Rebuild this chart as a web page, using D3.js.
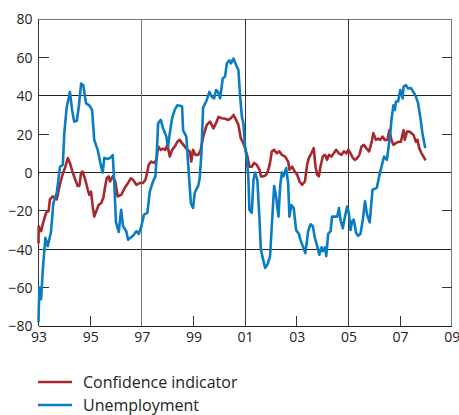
<!DOCTYPE html>
<html><head><meta charset="utf-8">
<script src="https://cdn.jsdelivr.net/npm/d3@7"></script>
<style>body{margin:0;background:#fff;} svg{display:block;font-family:"Open Sans",sans-serif;}</style>
</head><body><svg id="c" width="459" height="415"></svg>
<script>
// months since Jan 1993
const blueMonths = [0,0.4,1.2,2.0,3.2,4.3,5.8,6.9,8.5,10,11.3,12,13.1,14.6,15.6,16.6,17.8,18.7,19.8,20.8,22.1,23.6,24.9,25.9,27.5,29.1,29.8,30.6,32.2,33.2,34.5,35.2,36,37.3,38.4,39.3,40.8,41.6,43.9,45.5,46.6,47.8,49,50.6,51.7,53.2,54.3,54.8,55.6,56.8,57.9,59.4,60.2,61,62.1,63.3,64.5,66.7,67.2,68.7,69.5,70.8,71.8,72.6,74.2,74.9,75.7,76.5,77,78.2,79.4,80.5,81.6,82.5,83.4,84.4,85.6,86.7,87.5,88.7,89.4,90.6,91.8,92.9,93.7,94.5,95.2,96,96.8,97.5,98,99.1,99.9,100.7,101.7,102.7,103.3,104.2,105.3,106.4,107.6,108.4,109.5,110.4,111.5,112.3,113.1,113.8,115.1,116,116.6,117.5,118.6,119.7,121,121.7,122.8,124,125.3,126.4,127.5,128.4,129.5,130.5,131.5,132.1,133.1,133.7,134.6,135.7,136.4,137.7,138.8,139.6,140.3,141.4,142.4,143.4,144.2,145,145.7,146.5,147.6,148.5,149.6,150.7,151.7,152.7,153.9,155.2,157.2,158.3,159.8,160.6,161.9,162.5,163.4,164,164.9,165.6,166.1,167.1,168.1,169.2,169.6,170.7,171.8,173,174.2,175.4,176.4,177.4,178.4,179.7];
const blueValues = [-78,-60,-66,-50.6,-34,-38.4,-31,-16,-10.5,3,4,20.6,34,42,32.6,26.5,27,34,46.4,45.5,36,35,32.6,17,11.8,3,0,7.6,7,7.6,9,-5.4,-26,-31,-19.4,-28,-30.6,-35,-33,-30.6,-32,-28,-22,-21,-10,-4.7,-2,6.6,25.7,27.4,23,18.7,13.5,20.5,28.3,32.6,35,34.5,22,18.7,5,-16,-18.5,-10.5,-7,-3,10,34,35,37.8,42,39.5,38.6,43,42,38.6,49,50,56.8,58.5,56.8,59.4,56,53.4,39.5,29,25.7,13.5,6.6,-2,-19.4,-21,-3.8,0,-4,-24.6,-40,-44.5,-49.7,-48,-43.6,-28,-7,-12.5,-23,-7,0,-2,2.3,-5.5,-23,-17,-18.5,-30,-32,-35,-38.4,-42,-30.6,-27,-28,-34,-38.4,-42.8,-39,-41,-39,-43.6,-32,-30.6,-23,-23,-23,-18.5,-24.6,-29,-23,-17.7,-21,-30,-25.5,-24.6,-31.5,-33,-32,-24.6,-15,-22,-26,-9,-8,-2,5,8.3,6.6,11.8,19.6,27.4,35,32.6,37,37,43,38.6,44.7,45.5,43.8,44,42,39.5,36,29,20.5,12.7];
const redMonths = [0,0.1,1.2,2.2,3.5,4.7,5.3,6.6,7.8,8.5,9.4,10.5,11.5,12.5,13.6,14.6,15.9,17.1,18.2,19,19.8,20.5,21.8,22.9,23.6,24.4,25.2,25.9,27.1,28,29.1,30.1,31.1,31.7,32.6,33.2,34.5,35.7,36.8,37.6,38.5,40.1,41.6,42.9,43.9,45.5,47,48.6,49.7,50.6,51.2,52.4,53.7,54.8,55.6,56.8,57.9,58.9,59.9,61,62.1,63.3,64.5,65.6,66.7,68,69.2,70.3,71,71.8,72.9,74.2,75.4,76.6,78.2,79.7,81.3,82.5,83.6,85.2,86.7,88.2,89.4,90.6,91.8,92.9,94,94.9,96,97.1,98,99.1,100.2,101.4,102.7,103.4,104.5,105.8,106.8,107.6,108.4,109.5,110.7,111.9,113.1,114.6,116,116.6,117.9,119.1,120.2,121.3,122.5,123.8,124.8,125.6,126.8,127.9,128.7,129.5,130.3,131,132.1,133.1,134.1,134.9,136.1,137.2,138.3,139.6,140.8,141.9,143,143.9,145,146.1,147,148.1,149.1,150.1,151.2,152.3,153.6,154.7,155.6,156.8,157.8,158.8,159.8,160.9,162.2,163,164,164.9,166,167.1,168.4,169.6,170.2,171.2,172.3,173.3,174.2,175.4,176.1,176.9,178,179.3,179.9];
const redValues = [-37,-28,-30.6,-26,-21,-20,-14,-12.5,-13.3,-14,-9,-3.8,0,3,7.5,5,0,-3.8,-7,-7,0,0.5,-4,-9,-11.6,-10,-17.7,-23,-19.4,-16.8,-16,-13.3,-6.4,-3,-2,-4.7,-2,-4.7,-12.5,-12,-11.6,-8,-5.5,-3,-3.8,-6.4,-5.5,-5.5,-3.8,0.5,4,5.7,5,6.6,13.5,11.8,12.5,11.8,14.4,8.3,11.8,13.5,16,17,15.3,13.5,11.8,11,5.7,11.8,9.2,9.2,11.8,19,24.8,26.5,23,25.7,29,28.3,28,27.4,28.3,30,27.4,24.8,17.9,16,12.7,8.3,3,3,5,4,1.4,-2,-2,-1.2,1.4,5,11,11.8,10,11,9.2,8.3,5.7,1.4,3,0.5,-1.2,-4.7,-6.4,-4.7,4,7.5,10,12.7,3,-1.2,-2,3,8.3,9.2,6.6,9.2,8.3,10,11.8,10,9.2,11,10,11.8,10,7.5,6.6,7.5,9.2,13.5,14.4,12.7,11,15.3,20.5,17,17.7,17,18.7,17,17,22,17,14.4,15.3,16,16,22,17,21.3,21.3,20.5,19.6,16,17,12.7,10,7.5,6.3];
const yTicks = [80,60,40,20,0,-20,-40,-60,-80];
const xTickMonths = [0,24,48,72,96,120,144,168,192];
const xTickLabels = ["93","95","97","99","01","03","05","07","09"];
const seriesNames = ["Confidence indicator","Unemployment"];
const seriesColors = ["#a8282f","#0a7cc4"];

const svg = d3.select("#c");
const L=38.5, R=451.7, T=19, B=326;
const x = d3.scaleLinear().domain([0,192]).range([L,R]);
const y = d3.scaleLinear().domain([-80,80]).range([B,T]);

const g = svg.append("g");
[80,40,0,-40,-80].forEach(v=>{
  g.append("line").attr("x1",L).attr("x2",R).attr("y1",y(v)).attr("y2",y(v))
   .attr("stroke", (v===80)?"#777":"#222").attr("stroke-width",1).attr("shape-rendering","crispEdges");
});
[48,96,144].forEach(m=>{
  g.append("line").attr("x1",x(m)).attr("x2",x(m)).attr("y1",T).attr("y2",B)
   .attr("stroke", m===48?"#777":"#333").attr("stroke-width",1).attr("shape-rendering","crispEdges");
});
g.append("line").attr("x1",L).attr("x2",L).attr("y1",T).attr("y2",B).attr("stroke","#333").attr("shape-rendering","crispEdges");
g.append("line").attr("x1",R).attr("x2",R).attr("y1",T).attr("y2",B).attr("stroke","#777").attr("shape-rendering","crispEdges");

const yAxisL = d3.axisLeft(y).tickValues(yTicks).tickSize(0).tickPadding(5);
const ga = svg.append("g").attr("transform",`translate(${L-1},0)`).call(yAxisL);
ga.select(".domain").remove();
ga.selectAll("text").attr("font-size",14).attr("fill","#222").attr("font-family","Open Sans").attr("dy","0.35em");
[60,20,-20,-60].forEach(v=>{
  g.append("line").attr("x1",L).attr("x2",L+10).attr("y1",y(v)).attr("y2",y(v)).attr("stroke","#333").attr("shape-rendering","crispEdges");
  g.append("line").attr("x1",R-10).attr("x2",R).attr("y1",y(v)).attr("y2",y(v)).attr("stroke","#333").attr("shape-rendering","crispEdges");
});
const xAxis = d3.axisBottom(x).tickValues(xTickMonths).tickFormat((d,i)=>xTickLabels[i]).tickSize(0).tickPadding(6);
const gx = svg.append("g").attr("transform",`translate(0,${B})`).call(xAxis);
gx.select(".domain").remove();
gx.selectAll("text").attr("font-size",14).attr("fill","#222").attr("font-family","Open Sans");
[24,72,120,168].forEach(m=>{
  g.append("line").attr("x1",x(m)).attr("x2",x(m)).attr("y1",B-10).attr("y2",B).attr("stroke","#333").attr("shape-rendering","crispEdges");
});

const line = d3.line().x(d=>x(d[0])).y(d=>y(d[1]));
const redData = redMonths.map((m,i)=>[m,redValues[i]]);
const blueData = blueMonths.map((m,i)=>[m,blueValues[i]]);
svg.append("path").datum(redData).attr("d",line).attr("fill","none").attr("stroke",seriesColors[0]).attr("stroke-width",2.6).attr("stroke-linejoin","round");
svg.append("path").datum(blueData).attr("d",line).attr("fill","none").attr("stroke",seriesColors[1]).attr("stroke-width",2.6).attr("stroke-linejoin","round");

const leg = svg.append("g");
seriesNames.forEach((n,i)=>{
  const yy = 382 + i*23;
  leg.append("line").attr("x1",38).attr("x2",72).attr("y1",yy).attr("y2",yy).attr("stroke",seriesColors[i]).attr("stroke-width",2.5);
  leg.append("text").attr("x",83).attr("y",yy).attr("dy","0.35em").attr("font-size",16).attr("fill","#222").text(n);
});
</script></body></html>
